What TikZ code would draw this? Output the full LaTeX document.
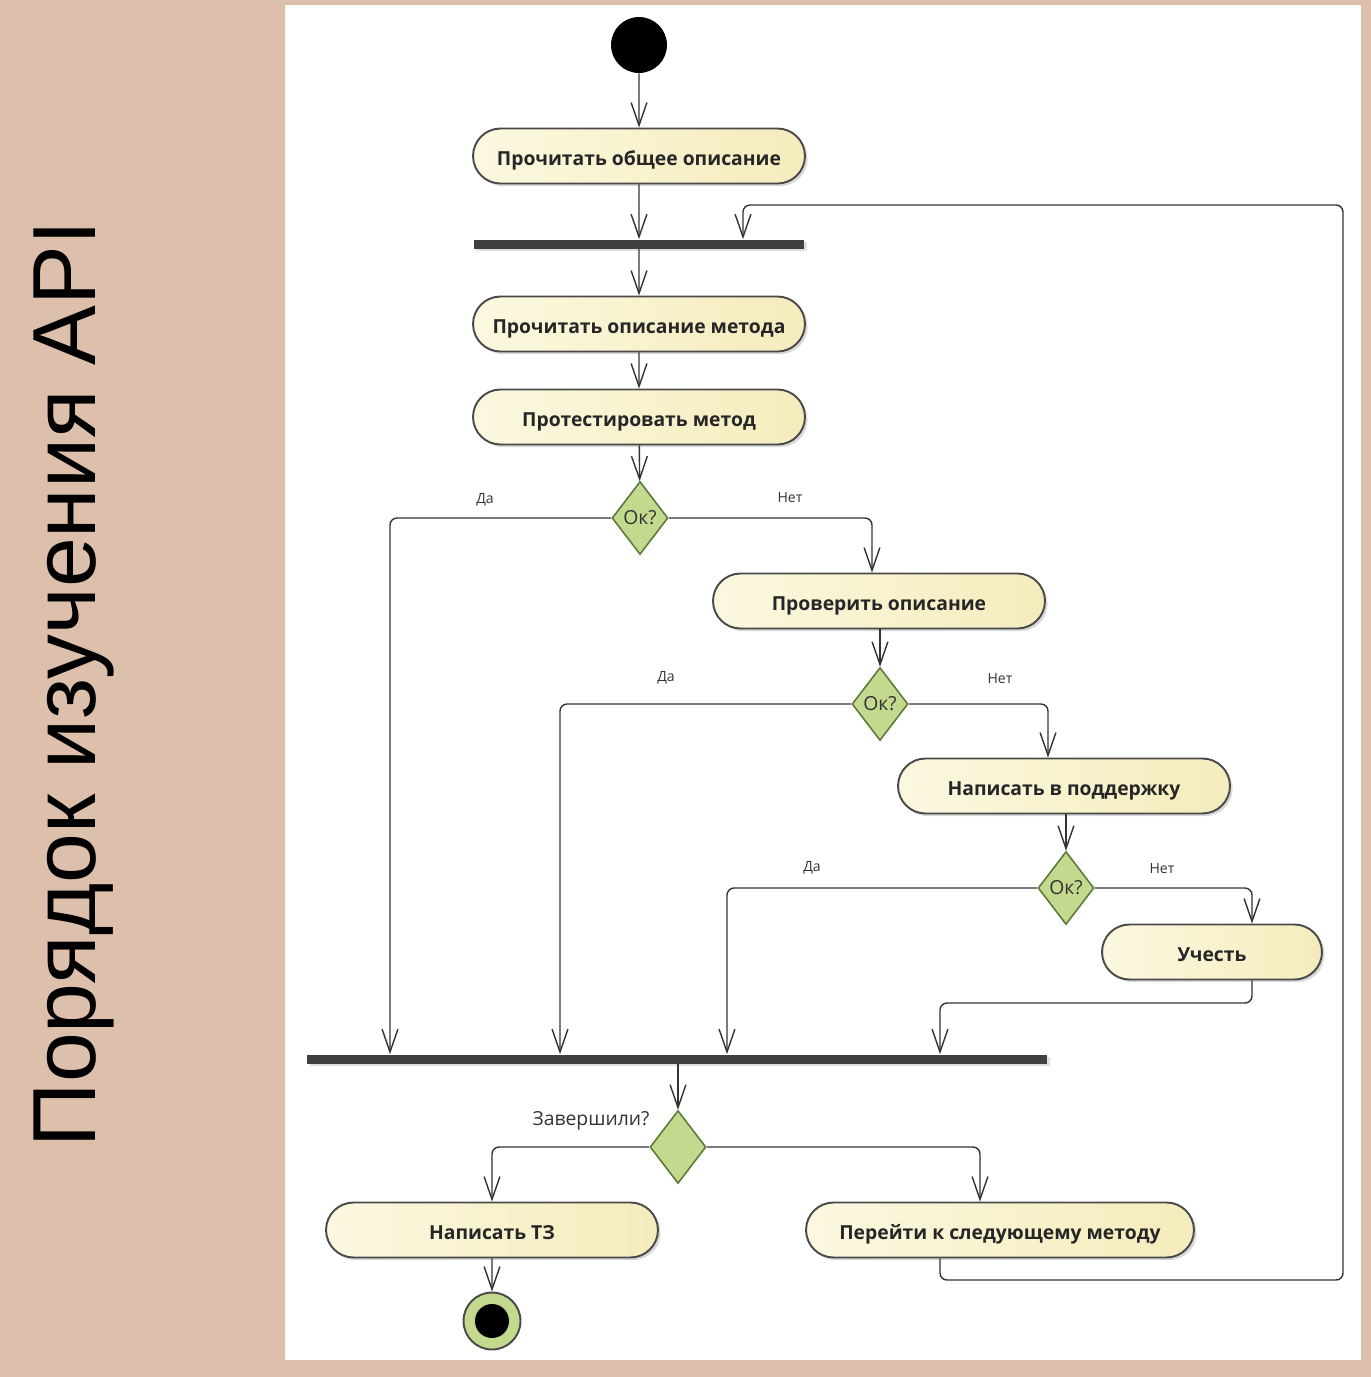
\documentclass[tikz,border=0pt]{standalone}
\usepackage{fontspec}
\newfontfamily\boxfont{Open Sans}
\newfontfamily\titlefont{Liberation Sans}
\usetikzlibrary{arrows.meta, shapes.geometric, shapes.misc, shadows}
\definecolor{tanbg}{HTML}{DCC0AB}
\definecolor{actL}{HTML}{FBF8E0}
\definecolor{actR}{HTML}{F5ECBC}
\definecolor{decfill}{HTML}{C2D98E}
\definecolor{decline}{HTML}{5E7A3A}
\definecolor{edge}{HTML}{4A4A4A}
\definecolor{barcol}{HTML}{404040}
\tikzset{
  act/.style={rounded rectangle, draw=edge, line width=1.1pt, left color=actL, right color=actR,
    minimum height=1.1cm, minimum width=6.64cm, inner sep=0pt, text=black!85,
    text height=11pt, text depth=0pt,
    font=\boxfont\bfseries\fontsize{11}{12}\selectfont,
    drop shadow={shadow xshift=1.5pt, shadow yshift=-1.5pt, opacity=0.3}},
  dec/.style={diamond, draw=decline, line width=0.9pt, fill=decfill, minimum width=1.12cm,
    minimum height=1.46cm, inner sep=0pt, text=black!80, font=\boxfont\fontsize{11}{12}\selectfont},
  bar/.style={rectangle, fill=barcol, minimum height=0.18cm, inner sep=0pt,
    drop shadow={shadow xshift=1.5pt, shadow yshift=-1.5pt, opacity=0.25}},
  arr/.style={-{Straight Barb[length=13pt, width=9pt]}, line width=0.8pt, draw=black!80, rounded corners=4pt},
  lbl/.style={text=black!80, font=\boxfont\fontsize{8}{10}\selectfont},
}

\begin{document}
\begin{tikzpicture}[x=0.02cm, y=-0.02cm]
    \fill[tanbg] (0,0) rectangle (1371,1377);
    \fill[white] (285,5) rectangle (1361,1360);
    \useasboundingbox (0,0) rectangle (1371,1377);
    \node[rotate=90, anchor=base, font=\titlefont\fontsize{51}{56}\selectfont] (title) at (95,684) {Порядок изучения API};

    % nodes
    \node[circle, fill=black, minimum size=1.12cm, inner sep=0pt] (start) at (639,45) {};
    \node[act] (act1) at (639,156) {Прочитать общее описание};
    \node[bar, minimum width=6.62cm] (bar1) at (639,244) {};
    \node[act] (act2) at (639,324) {Прочитать описание метода};
    \node[act] (act3) at (639,417) {Протестировать метод};
    \node[dec] (dec1) at (640,518) {Ок?};
    \node[act] (act4) at (879,601) {Проверить описание};
    \node[dec] (dec2) at (880,704) {Ок?};
    \node[act] (act5) at (1064,786) {Написать в поддержку};
    \node[dec] (dec3) at (1066,888) {Ок?};
    \node[act, minimum width=4.4cm] (act6) at (1212,952) {Учесть};
    \node[bar, minimum width=14.8cm] (bar2) at (677,1059) {};
    \node[dec] (dec4) at (678,1147) {};
    \node[text=black!80, font=\boxfont\fontsize{11}{12}\selectfont] (done) at (591,1121) {Завершили?};
    \node[act] (act7) at (492,1230) {Написать ТЗ};
    \node[act, minimum width=7.76cm] (act8) at (1000,1230) {Перейти к следующему методу};
    \node[circle, draw=edge, line width=1.1pt, fill=decfill, minimum size=1.14cm, inner sep=0pt] (stop) at (492,1321) {};
    \node[circle, fill=black, minimum size=0.68cm, inner sep=0pt] (stopdot) at (stop) {};

    % labels
    \node[lbl] (yes1) at (485,500) {Да};
    \node[lbl] (no1) at (790,498) {Нет};
    \node[lbl] (yes2) at (666,678) {Да};
    \node[lbl] (no2) at (1000,679) {Нет};
    \node[lbl] (yes3) at (812,868) {Да};
    \node[lbl] (no3) at (1162,869) {Нет};

    \coordinate (in1) at (390,1059);
    \coordinate (in2) at (560,1059);
    \coordinate (in3) at (727,1059);
    \coordinate (in4) at (940,1003);
    \coordinate (back) at (1343,1280);
    \coordinate (back2) at (743,205);

    % connectors
    \draw[arr] (start) -- (act1);
    \draw[arr] (act1) -- (act1 |- bar1.north);
    \draw[arr] (bar1.south -| act2) -- (act2);
    \draw[arr] (act2) -- (act3);
    \draw[arr] (act3) -- (dec1);
    \draw[arr] (dec1.west) -| (in1 |- bar2.north);
    \draw[arr] (dec1.east) -| ([xshift=-0.14cm]act4.north);
    \draw[arr] (act4.south -| dec2) -- (dec2);
    \draw[arr] (dec2.west) -| (in2 |- bar2.north);
    \draw[arr] (dec2.east) -| ([xshift=-0.32cm]act5.north);
    \draw[arr] (act5.south -| dec3) -- (dec3);
    \draw[arr] (dec3.west) -| (in3 |- bar2.north);
    \draw[arr] (dec3.east) -| ([xshift=0.8cm]act6.north);
    \draw[arr] ([xshift=0.8cm]act6.south) |- (in4) -- (in4 |- bar2.north);
    \draw[arr] (bar2.south -| dec4) -- (dec4);
    \draw[arr] (dec4.west) -| (act7.north);
    \draw[arr] (dec4.east) -| ([xshift=-0.4cm]act8.north);
    \draw[arr] (act7) -- (stop);
    \draw[arr] ([xshift=-1.2cm]act8.south) |- (back) |- (back2) -- (back2 |- bar1.north);
\end{tikzpicture}
\end{document}
